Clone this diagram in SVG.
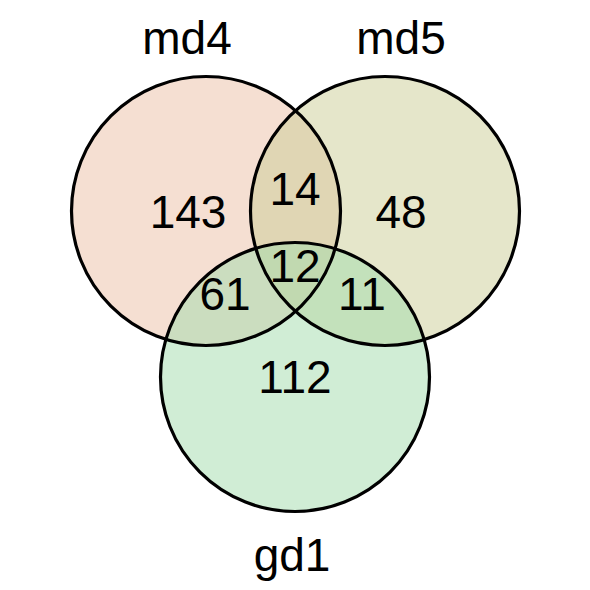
<svg xmlns="http://www.w3.org/2000/svg" width="590" height="590" viewBox="0 0 590 590">
<style>
.set{stroke:none;fill-opacity:0.5}
.lbl{font-family:"Liberation Sans",Arial,sans-serif;font-size:46px;fill:#000;text-anchor:middle}
</style>
<rect width="590" height="590" fill="#fff"/>
<g id="md4"><circle class="set" cx="206" cy="211" r="134.5" fill="#EBBFA5"/></g>
<g id="md5"><circle class="set" cx="385" cy="211" r="134.5" fill="#CBCD95"/></g>
<g id="gd1"><circle class="set" cx="295" cy="377" r="134.5" fill="#A1DBAB"/></g>
<g id="outlines" fill="none" stroke="#000" stroke-width="3.2">
<circle cx="206" cy="211" r="134.5"/>
<circle cx="385" cy="211" r="134.5"/>
<circle cx="295" cy="377" r="134.5"/>
</g>
<g id="labels">
<text class="lbl" x="187" y="54">md4</text>
<text class="lbl" x="401" y="54">md5</text>
<text class="lbl" x="292" y="571">gd1</text>
<text class="lbl" x="188" y="228">143</text>
<text class="lbl" x="295" y="205">14</text>
<text class="lbl" x="401" y="228">48</text>
<text class="lbl" x="295" y="282">12</text>
<text class="lbl" x="225" y="310">61</text>
<text class="lbl" x="362" y="310">11</text>
<text class="lbl" x="295" y="393">112</text>
</g>
</svg>
